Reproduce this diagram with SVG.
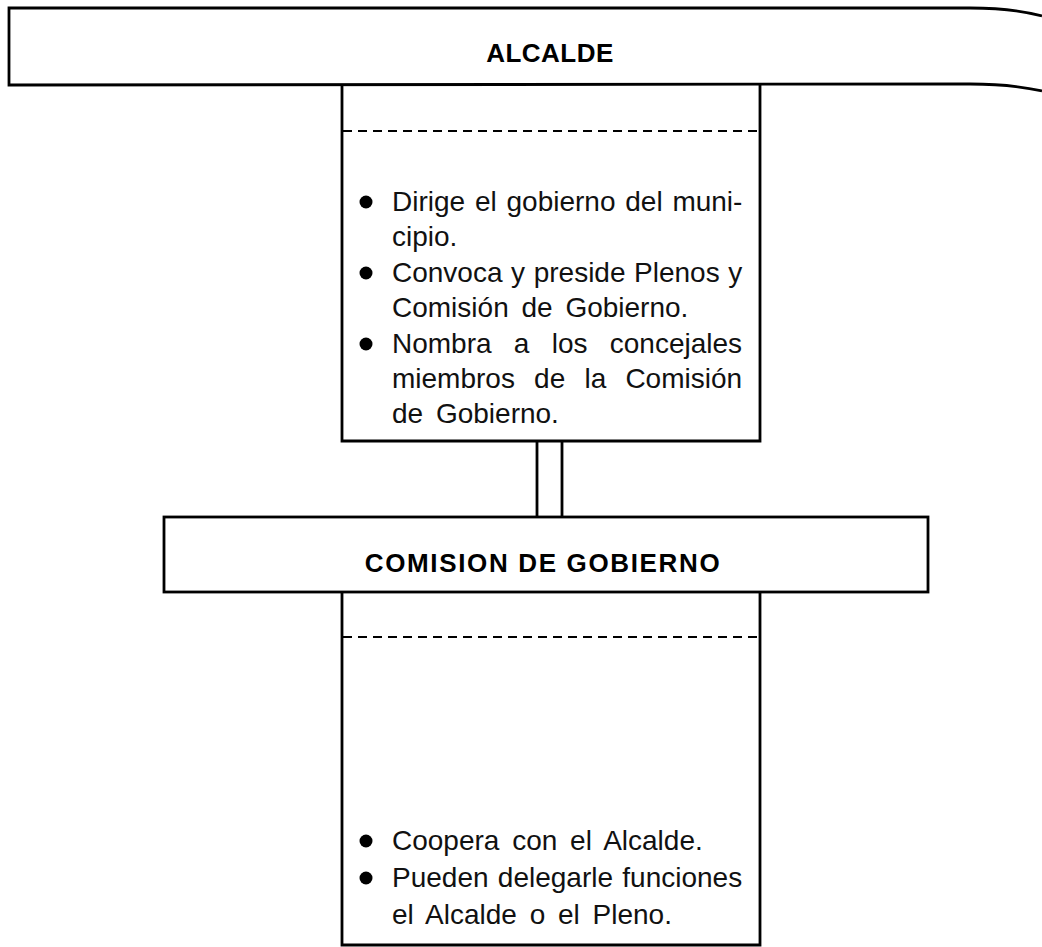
<svg xmlns="http://www.w3.org/2000/svg" width="1042" height="947" viewBox="0 0 1042 947">
<style>
.ln{fill:none;stroke:#000;stroke-width:2.8}
.dash{fill:none;stroke:#000;stroke-width:2;stroke-dasharray:9 6}
.title{font-family:"Liberation Sans",Arial,sans-serif;font-weight:bold;font-size:26px;fill:#000;text-anchor:middle}
.body{font-family:"Liberation Sans",Arial,sans-serif;font-size:28px;fill:#111}
.dot{fill:#000}
</style>
<rect width="1042" height="947" fill="#fff"/>
<g id="alcalde">
<path class="ln" d="M1042,16 C1020,10 1000,8 970,8 L9,8 L9,85 L970,84 C1000,84 1020,86 1042,91"/>
<text class="title" x="550" y="62" letter-spacing="0.5">ALCALDE</text>
</g>
<g id="alcalde-funciones">
<path class="ln" d="M342,85 L342,441 L760,441 L760,85"/>
<line class="dash" x1="343" y1="131" x2="759" y2="131"/>
<circle class="dot" cx="366" cy="202" r="6.5"/>
<text class="body" x="392" y="211" style="word-spacing:2px">Dirige el gobierno del muni-</text>
<text class="body" x="392" y="246">cipio.</text>
<circle class="dot" cx="366" cy="273" r="6.5"/>
<text class="body" x="392" y="282" style="word-spacing:0.8px">Convoca y preside Plenos y</text>
<text class="body" x="392" y="317" style="word-spacing:5px">Comisión de Gobierno.</text>
<circle class="dot" cx="366" cy="344" r="6.5"/>
<text class="body" x="392" y="353" style="word-spacing:14.5px">Nombra a los concejales</text>
<text class="body" x="392" y="388" style="word-spacing:11.4px">miembros de la Comisión</text>
<text class="body" x="392" y="423" style="word-spacing:5px">de Gobierno.</text>
</g>
<g id="connectors">
<line class="ln" x1="537" y1="441" x2="537" y2="517"/>
<line class="ln" x1="562" y1="441" x2="562" y2="517"/>
</g>
<g id="comision">
<rect class="ln" x="164" y="517" width="764" height="75"/>
<text class="title" x="543" y="572" letter-spacing="1.65">COMISION DE GOBIERNO</text>
</g>
<g id="comision-funciones">
<path class="ln" d="M342,592 L342,945 L760,945 L760,592"/>
<line class="dash" x1="343" y1="637" x2="759" y2="637"/>
<circle class="dot" cx="366" cy="841" r="6.5"/>
<text class="body" x="392" y="850" style="word-spacing:5px">Coopera con el Alcalde.</text>
<circle class="dot" cx="366" cy="878" r="6.5"/>
<text class="body" x="392" y="887" style="word-spacing:1.5px">Pueden delegarle funciones</text>
<text class="body" x="392" y="924" style="word-spacing:5px">el Alcalde o el Pleno.</text>
</g>
</svg>
